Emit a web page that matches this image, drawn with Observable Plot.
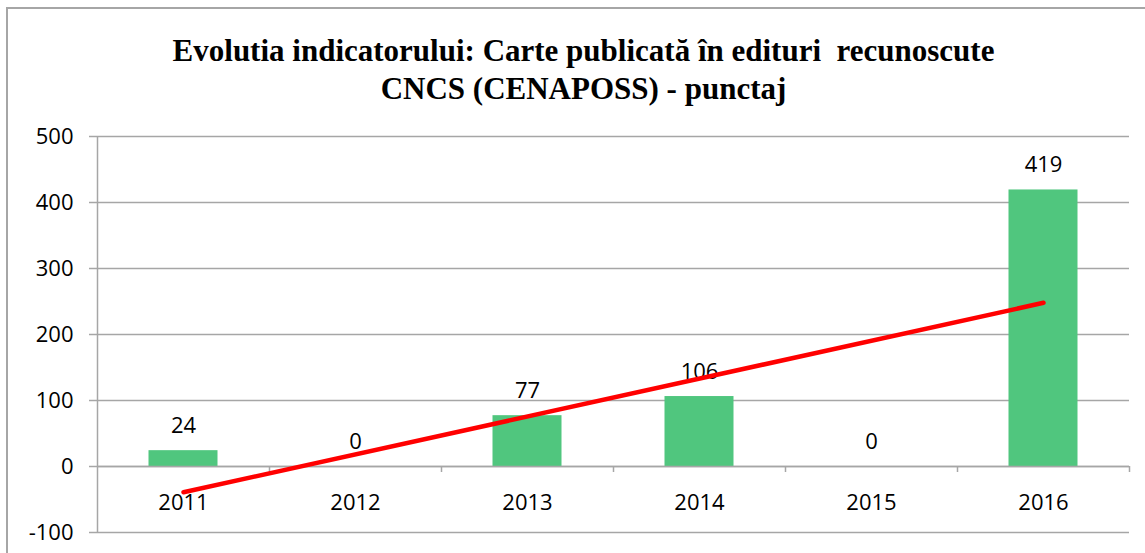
<!DOCTYPE html>
<html>
<head>
<meta charset="utf-8">
<script src="https://cdn.jsdelivr.net/npm/d3@7"></script>
<script src="https://cdn.jsdelivr.net/npm/@observablehq/plot@0.6"></script>
<style>
  html, body { margin: 0; padding: 0; background: #fff; overflow: hidden; }
  #wrap { position: relative; width: 1145px; height: 553px; }
  #border { position: absolute; left: 6px; top: 7px; width: 1200px; height: 600px; border: 2px solid #a6a6a6; box-sizing: border-box; }
  #chart { position: absolute; left: 0; top: 0; }
</style>
</head>
<body>
<div id="wrap"><div id="border"></div><div id="chart"></div></div>
<script>
const years = ["2011", "2012", "2013", "2014", "2015", "2016"];
const values = [24, 0, 77, 106, 0, 419];
const yTicks = [-100, 0, 100, 200, 300, 400, 500];
const trendYears = ["2011", "2016"];
const trendValues = [-39, 248];
const titleLine1 = "Evolutia indicatorului: Carte publicată în edituri  recunoscute";
const titleLine2 = "CNCS (CENAPOSS) - punctaj";

const data = years.map((y, i) => ({year: y, value: values[i]}));
const trend = trendYears.map((y, i) => ({year: y, value: trendValues[i]}));

const W = 1145, H = 553, mL = 97, mR = 16, mT = 136, mB = 21;
const step = (W - mL - mR) / years.length;
const barW = 69;
const gray = "#a6a6a6";
const font = "'Open Sans', sans-serif";

const plot = Plot.plot({
  width: W,
  height: H,
  marginLeft: mL,
  marginRight: mR,
  marginTop: mT,
  marginBottom: mB,
  style: {fontFamily: font, fontSize: "22px", color: "#000", background: "transparent", overflow: "visible"},
  x: {type: "band", domain: years, padding: 0, axis: null},
  y: {domain: [-100, 500], axis: null},
  marks: [
    Plot.gridY(yTicks, {stroke: gray, strokeOpacity: 1, strokeWidth: 1.5}),
    Plot.axisY(yTicks, {label: null, tickSize: 8, tickPadding: 16, stroke: gray, strokeWidth: 1.5, fontSize: 22, fill: "#000", tickFormat: d => String(d)}),
    Plot.barY(data, {x: "year", y: "value", fill: "#50c67e", insetLeft: (step - barW) / 2, insetRight: (step - barW) / 2}),
    Plot.ruleY([0], {stroke: gray, strokeWidth: 1.5}),
    Plot.ruleX([years[0]], {x: d => d, dx: -step / 2, y1: -100, y2: 500, stroke: gray, strokeWidth: 1.5}),
    Plot.ruleX(years, {x: d => d, dx: step / 2, y1: 0, y2: -100, insetBottom: 60, stroke: gray, strokeWidth: 1.5}),
    Plot.text(years, {x: d => d, y: () => 0, dy: 43, text: d => d, lineAnchor: "bottom", fill: "#000", fontSize: 22}),
    Plot.text(data, {x: "year", y: "value", text: d => String(d.value), dy: -18, lineAnchor: "bottom", fill: "#000", fontSize: 22}),
    Plot.line(trend, {x: "year", y: "value", stroke: "#ff0000", strokeWidth: 4.5}),
    Plot.text([titleLine1], {frameAnchor: "top", dx: -30, dy: -76, text: d => d, lineAnchor: "bottom", fontFamily: "'Liberation Serif', serif", fontWeight: "bold", fontSize: 31, fill: "#000"}),
    Plot.text([titleLine2], {frameAnchor: "top", dx: -30, dy: -38, text: d => d, lineAnchor: "bottom", fontFamily: "'Liberation Serif', serif", fontWeight: "bold", fontSize: 31, fill: "#000"})
  ]
});
document.getElementById("chart").appendChild(plot);
</script>
</body>
</html>
